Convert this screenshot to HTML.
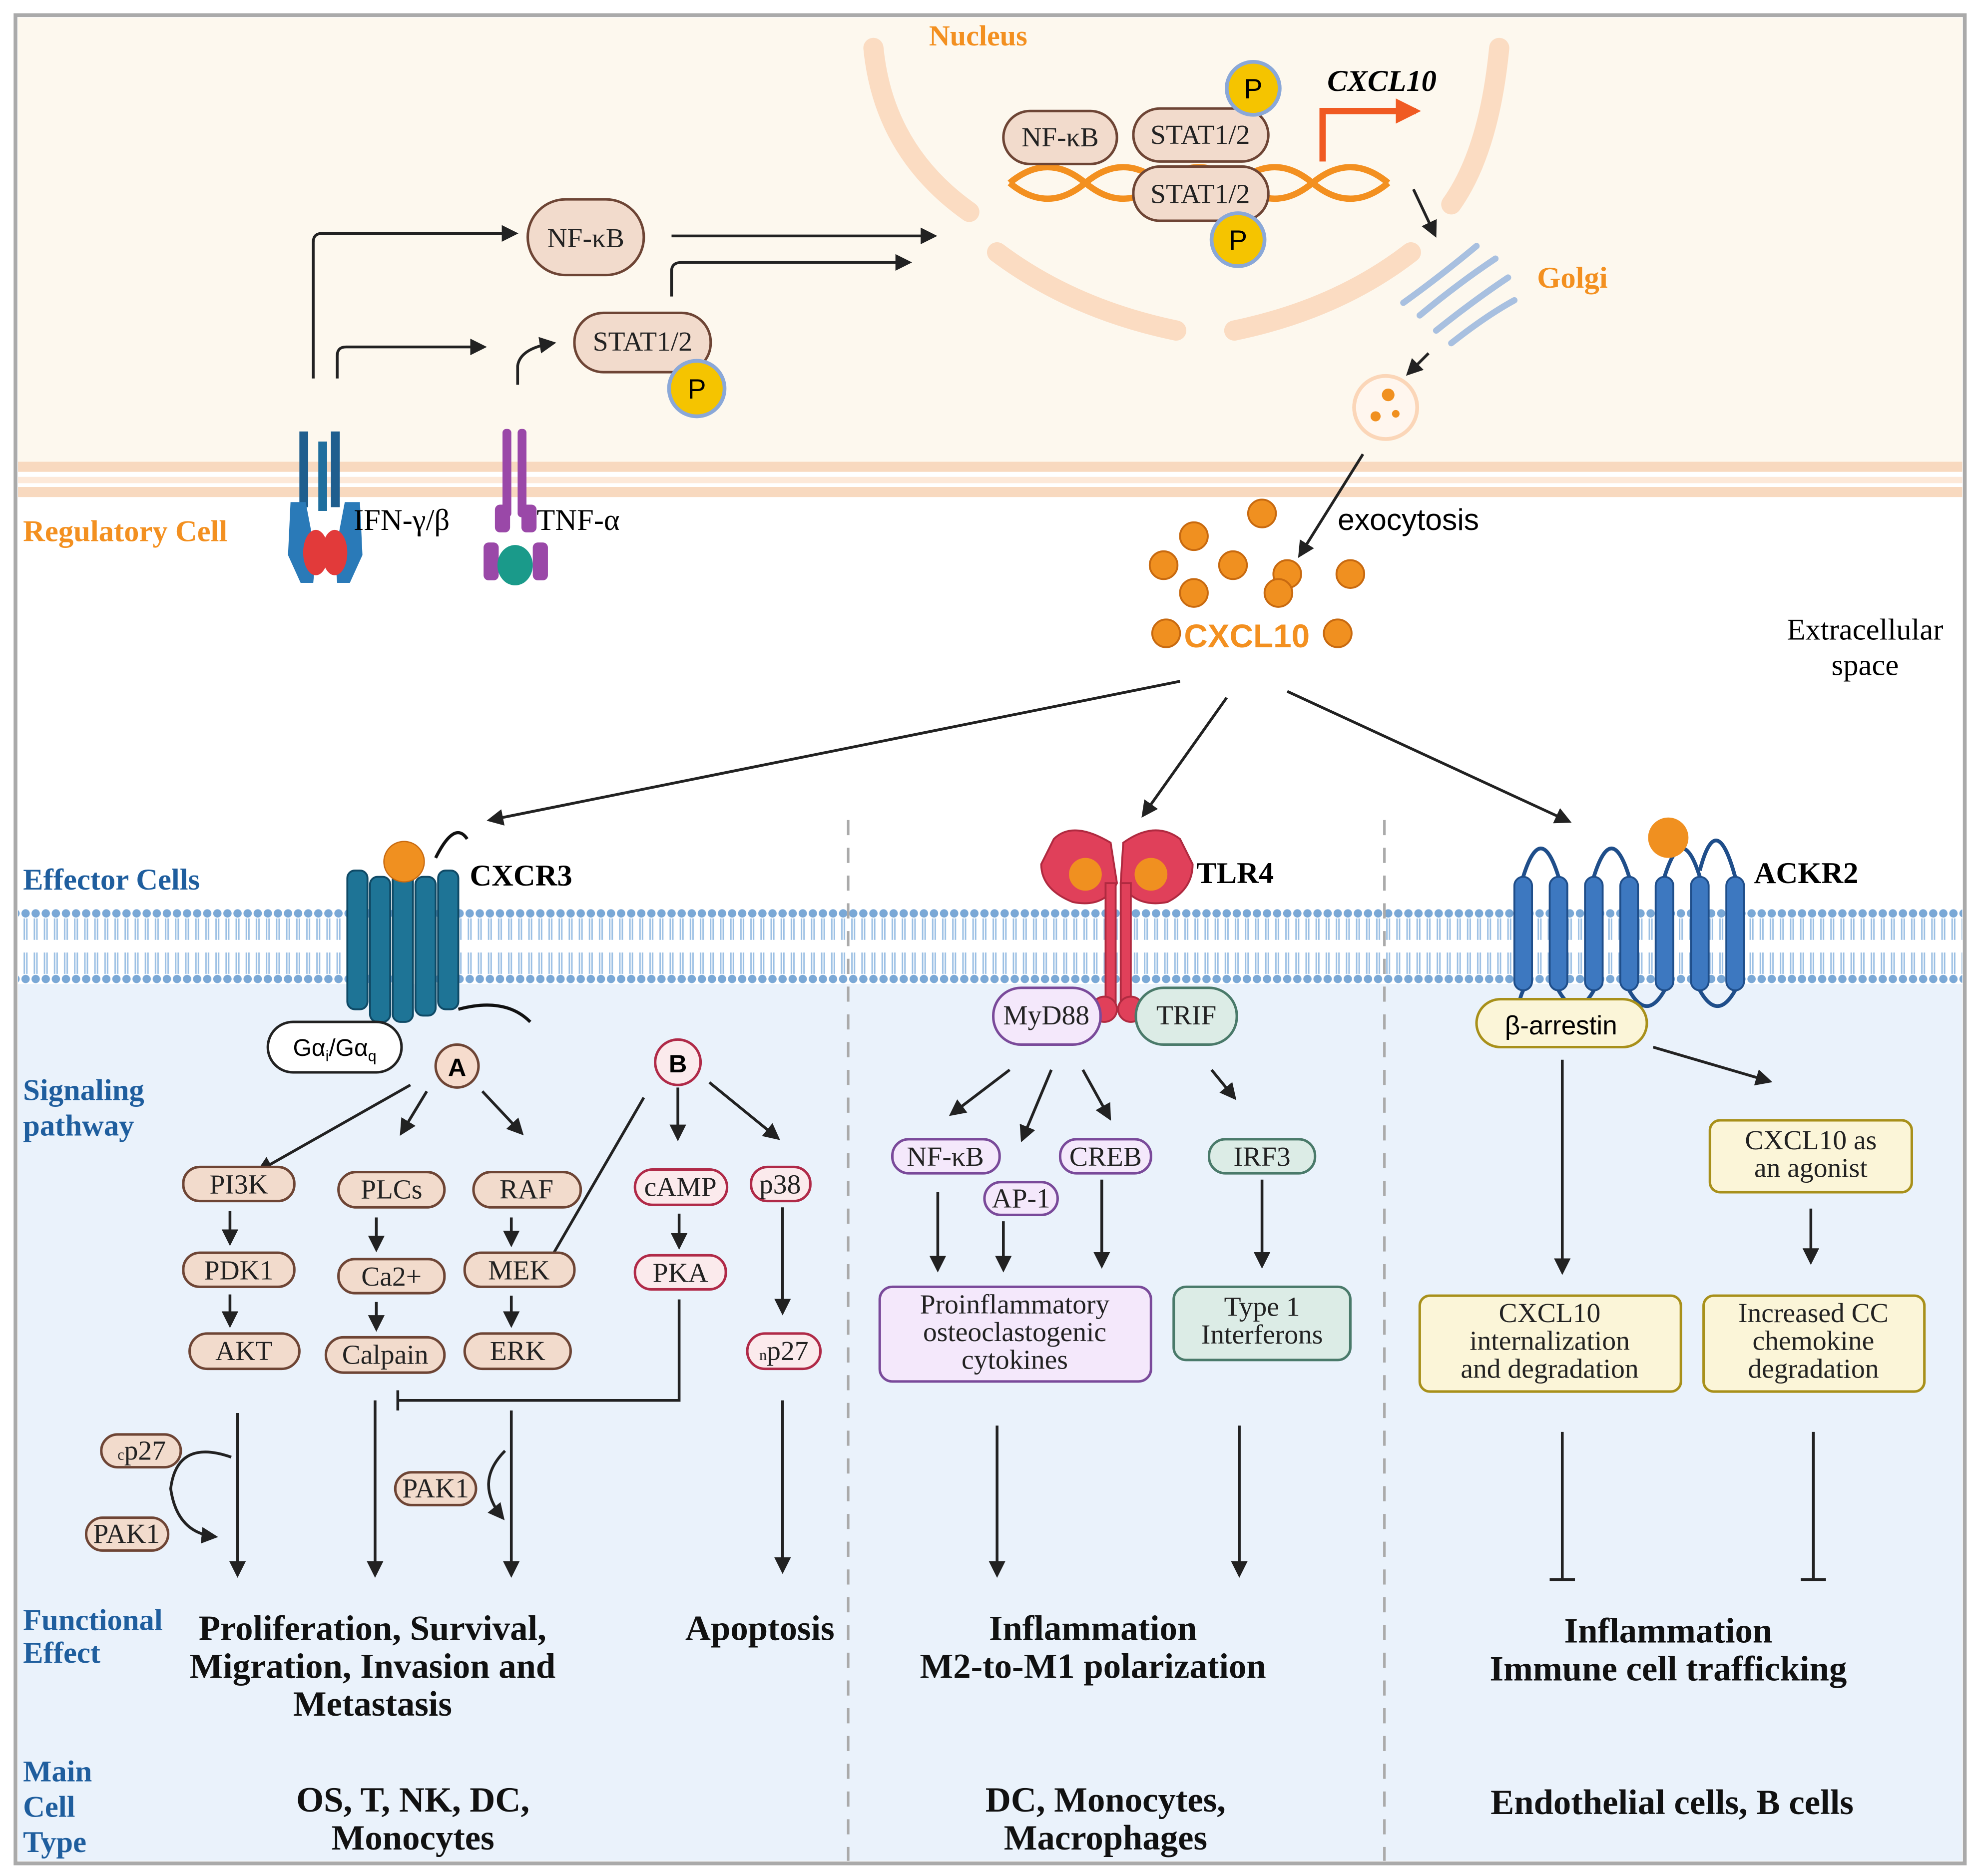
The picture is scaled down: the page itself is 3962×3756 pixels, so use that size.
<!DOCTYPE html>
<html><head><meta charset="utf-8"><style>
html,body{margin:0;padding:0;background:#fff}
svg{display:block}
text{font-family:"Liberation Serif",serif}
.s{font-family:"Liberation Sans",sans-serif}
.bt{font-weight:bold;font-size:28px;text-anchor:middle;fill:#111}
.bl{font-weight:bold;font-size:24px;fill:#1f5e9e}
.pb{fill:#f2dbcc;stroke:#6e4535;stroke-width:2}
.pr{fill:#fbeaec;stroke:#b02a48;stroke-width:2}
.pv{fill:#f4e8fb;stroke:#7a4a9a;stroke-width:2}
.pm{fill:#dcece6;stroke:#4a7a6a;stroke-width:2}
.py{fill:#fbf5d8;stroke:#a8901a;stroke-width:2}
.pt{font-size:22px;text-anchor:middle;fill:#222}
.ar{stroke:#222;stroke-width:2.2;fill:none;marker-end:url(#ah)}
.ln{stroke:#222;stroke-width:2.2;fill:none}
</style></head><body>
<svg width="3962" height="3756" viewBox="0 0 1568 1487" xmlns="http://www.w3.org/2000/svg">
<defs>
<marker id="ah" viewBox="0 0 10 10" refX="8" refY="5" markerWidth="6" markerHeight="6" orient="auto-start-reverse"><path d="M0,0L10,5L0,10z" fill="#222"/></marker>
<marker id="oh" viewBox="0 0 10 10" refX="8" refY="5" markerWidth="4" markerHeight="4" orient="auto"><path d="M0,0L10,5L0,10z" fill="#f05a22"/></marker>
<pattern id="lip" x="0" y="0" width="8" height="60" patternUnits="userSpaceOnUse">
<circle cx="4" cy="4" r="3.3" fill="#7aa8d6"/><line x1="3" y1="8" x2="3" y2="25" stroke="#9cc0e4" stroke-width="1.2"/><line x1="5" y1="8" x2="5" y2="25" stroke="#9cc0e4" stroke-width="1.2"/>
<line x1="3" y1="35" x2="3" y2="52" stroke="#9cc0e4" stroke-width="1.2"/><line x1="5" y1="35" x2="5" y2="52" stroke="#9cc0e4" stroke-width="1.2"/><circle cx="4" cy="56" r="3.3" fill="#7aa8d6"/>
</pattern>
</defs>
<rect x="0" y="0" width="1568" height="1487" fill="#fff"/>
<rect x="12" y="12" width="1545" height="1465" fill="#fff" stroke="#aaa" stroke-width="3"/>
<rect x="14" y="14" width="1541" height="355" fill="#fdf8ee"/>
<rect x="14" y="366" width="1541" height="8" fill="#f8d9bf"/>
<rect x="14" y="378" width="1541" height="5" fill="#fde9d9"/>
<rect x="14" y="386" width="1541" height="8" fill="#f8d9bf"/>
<rect x="14" y="780" width="1541" height="695" fill="#eaf2fb"/>
<rect x="14" y="720" width="1541" height="60" fill="url(#lip)"/>
<line x1="672" y1="650" x2="672" y2="1475" stroke="#aaa" stroke-width="2" stroke-dasharray="12,10"/>
<line x1="1097" y1="650" x2="1097" y2="1475" stroke="#aaa" stroke-width="2" stroke-dasharray="12,10"/>

<text x="775" y="36" font-size="23" font-weight="bold" fill="#f39020" text-anchor="middle">Nucleus</text>
<g stroke="#fbdcc2" stroke-width="16" fill="none" stroke-linecap="round">
<path d="M692,38 Q700,120 768,168"/>
<path d="M1188,38 Q1180,120 1150,162"/>
<path d="M790,200 Q850,245 932,262"/>
<path d="M978,262 Q1060,245 1118,200"/>
</g>
<g stroke="#f39020" stroke-width="5" fill="none">
<path d="M800,145 Q830,120 860,145 T920,145 T980,145 T1040,145 T1100,145"/>
<path d="M800,145 Q830,170 860,145 T920,145 T980,145 T1040,145 T1100,145"/>
</g>
<rect x="795" y="88" width="90" height="42" rx="21" class="pb"/><text x="840" y="116" class="pt" font-size="23">NF-κB</text>
<rect x="898" y="86" width="107" height="42" rx="21" class="pb"/><text x="951" y="114" class="pt" font-size="23">STAT1/2</text>
<rect x="898" y="132" width="107" height="43" rx="21" class="pb"/><text x="951" y="161" class="pt" font-size="23">STAT1/2</text>
<circle cx="993" cy="70" r="21" fill="#f5c400" stroke="#8aa8d8" stroke-width="3"/><text x="993" y="78" class="s" font-size="22" text-anchor="middle">P</text>
<circle cx="981" cy="190" r="21" fill="#f5c400" stroke="#8aa8d8" stroke-width="3"/><text x="981" y="198" class="s" font-size="22" text-anchor="middle">P</text>
<path d="M1048,128 L1048,88 L1122,88" stroke="#f05a22" stroke-width="5" fill="none" marker-end="url(#oh)"/>
<text x="1095" y="72" font-size="24" font-weight="bold" font-style="italic" text-anchor="middle">CXCL10</text>
<line x1="1120" y1="150" x2="1137" y2="186" class="ar"/>
<g stroke="#a8c0e0" stroke-width="5" fill="none" stroke-linecap="round">
<path d="M1112,240 Q1140,220 1170,195"/><path d="M1125,250 Q1155,225 1185,205"/><path d="M1138,262 Q1168,238 1195,220"/><path d="M1150,272 Q1178,250 1200,238"/>
</g>
<text x="1218" y="228" font-size="24" font-weight="bold" fill="#f39020">Golgi</text>
<line x1="1132" y1="280" x2="1116" y2="296" class="ar"/>
<circle cx="1098" cy="323" r="25" fill="#fff6ee" stroke="#fbd6b8" stroke-width="3"/>
<circle cx="1100" cy="313" r="5" fill="#f09020"/><circle cx="1090" cy="330" r="4" fill="#f09020"/><circle cx="1106" cy="328" r="3" fill="#f09020"/>
<line x1="1080" y1="360" x2="1030" y2="440" class="ar"/>
<text x="1060" y="420" class="s" font-size="24">exocytosis</text>
<g fill="#f09020" stroke="#c86a10" stroke-width="1.5">
<circle cx="1000" cy="407" r="11"/><circle cx="946" cy="425" r="11"/><circle cx="977" cy="448" r="11"/><circle cx="1020" cy="455" r="11"/><circle cx="922" cy="448" r="11"/><circle cx="946" cy="470" r="11"/><circle cx="1013" cy="470" r="11"/><circle cx="1070" cy="455" r="11"/><circle cx="924" cy="502" r="11"/><circle cx="1060" cy="502" r="11"/>
</g>
<text x="988" y="513" class="s" font-size="26" font-weight="bold" fill="#f39020" text-anchor="middle">CXCL10</text>
<text x="1478" y="507" font-size="24" text-anchor="middle">Extracellular</text>
<text x="1478" y="535" font-size="24" text-anchor="middle">space</text>

<rect x="418" y="158" width="92" height="60" rx="30" class="pb"/><text x="464" y="196" class="pt" font-size="23">NF-κB</text>
<rect x="455" y="248" width="108" height="47" rx="23" class="pb"/><text x="509" y="278" class="pt" font-size="23">STAT1/2</text>
<circle cx="552" cy="308" r="22" fill="#f5c400" stroke="#8aa8d8" stroke-width="3"/><text x="552" y="316" class="s" font-size="22" text-anchor="middle">P</text>
<path d="M248,300 L248,192 Q248,185 255,185 L408,185" class="ar"/>
<path d="M267,300 L267,282 Q267,275 274,275 L383,275" class="ar"/>
<path d="M410,305 L410,290 Q412,276 438,272" class="ar"/>
<path d="M532,187 L740,187" class="ar"/>
<path d="M532,235 L532,215 Q532,208 540,208 L720,208" class="ar"/>
<g>
<rect x="237" y="342" width="7" height="60" fill="#1f5e8e"/><rect x="252" y="350" width="7" height="55" fill="#1f6f9e"/><rect x="262" y="342" width="7" height="60" fill="#1f5e8e"/>
<path d="M230,398 L242,398 L250,440 L248,462 L238,462 L228,440 Z" fill="#2a7ab8"/><path d="M285,398 L273,398 L265,440 L267,462 L277,462 L287,440 Z" fill="#2a7ab8"/>
<ellipse cx="250" cy="438" rx="10" ry="18" fill="#e23a3a"/><ellipse cx="265" cy="438" rx="10" ry="18" fill="#e23a3a"/>
</g>
<g fill="#9a48a8">
<rect x="398" y="340" width="7" height="70" rx="3"/><rect x="410" y="340" width="7" height="70" rx="3"/>
<rect x="392" y="400" width="12" height="22" rx="4"/><rect x="413" y="400" width="12" height="22" rx="4"/>
<rect x="383" y="430" width="12" height="30" rx="4"/><rect x="422" y="430" width="12" height="30" rx="4"/>
<ellipse cx="408" cy="448" rx="14" ry="16" fill="#1a9a8a"/>
</g>
<text x="280" y="420" font-size="24">IFN-γ/β</text>
<text x="425" y="420" font-size="24">TNF-α</text>
<text x="18" y="429" font-size="24" font-weight="bold" fill="#f39020">Regulatory Cell</text>

<line x1="935" y1="540" x2="388" y2="650" class="ar"/>
<line x1="972" y1="553" x2="906" y2="646" class="ar"/>
<line x1="1020" y1="548" x2="1243" y2="651" class="ar"/>

<text x="18" y="705" class="bl">Effector Cells</text>
<text x="18" y="872" class="bl">Signaling</text><text x="18" y="900" class="bl">pathway</text>
<text x="18" y="1292" class="bl">Functional</text><text x="18" y="1318" class="bl">Effect</text>
<text x="18" y="1412" class="bl">Main</text><text x="18" y="1440" class="bl">Cell</text><text x="18" y="1468" class="bl">Type</text>

<g fill="#1e7496" stroke="#0f4a66" stroke-width="1.5">
<rect x="275" y="690" width="16" height="110" rx="6"/><rect x="293" y="695" width="16" height="115" rx="6"/><rect x="311" y="690" width="16" height="120" rx="6"/><rect x="329" y="695" width="16" height="110" rx="6"/><rect x="347" y="690" width="16" height="110" rx="6"/>
</g>
<path d="M345,680 Q360,650 370,665 M363,800 Q400,790 420,810" stroke="#111" stroke-width="2.5" fill="none"/>
<circle cx="320" cy="683" r="16" fill="#f09020" stroke="#c86a10"/>
<text x="372" y="702" font-size="24" font-weight="bold">CXCR3</text>
<rect x="212" y="810" width="106" height="40" rx="20" fill="#fff" stroke="#222" stroke-width="2"/>
<text x="265" y="837" class="s" font-size="19" text-anchor="middle">Gα<tspan font-size="12" dy="4">i</tspan><tspan dy="-4">/Gα</tspan><tspan font-size="12" dy="4">q</tspan></text>
<circle cx="362" cy="845" r="17" fill="#f6dccd" stroke="#6e4535" stroke-width="2"/><text x="362" y="853" class="s" font-size="20" font-weight="bold" text-anchor="middle">A</text>
<circle cx="537" cy="842" r="18" fill="#fbeaec" stroke="#b02a48" stroke-width="2"/><text x="537" y="850" class="s" font-size="20" font-weight="bold" text-anchor="middle">B</text>
<line x1="325" y1="860" x2="205" y2="928" class="ar"/>
<line x1="338" y1="865" x2="318" y2="898" class="ar"/>
<line x1="382" y1="865" x2="413" y2="898" class="ar"/>
<line x1="537" y1="862" x2="537" y2="902" class="ar"/>
<line x1="562" y1="858" x2="616" y2="902" class="ar"/>
<line x1="510" y1="870" x2="430" y2="1008" class="ln"/><line x1="422" y1="1003" x2="438" y2="1013" class="ln"/>
<rect x="145" y="925" width="88" height="27" rx="13" class="pb"/><text x="189" y="946" class="pt">PI3K</text>
<rect x="268" y="929" width="84" height="28" rx="14" class="pb"/><text x="310" y="950" class="pt">PLCs</text>
<rect x="375" y="929" width="85" height="28" rx="14" class="pb"/><text x="417" y="950" class="pt">RAF</text>
<rect x="503" y="927" width="73" height="28" rx="14" class="pr"/><text x="539" y="948" class="pt">cAMP</text>
<rect x="595" y="925" width="47" height="27" rx="13" class="pr"/><text x="618" y="946" class="pt">p38</text>
<rect x="145" y="993" width="88" height="27" rx="13" class="pb"/><text x="189" y="1014" class="pt">PDK1</text>
<rect x="268" y="998" width="84" height="27" rx="13" class="pb"/><text x="310" y="1019" class="pt">Ca2+</text>
<rect x="368" y="993" width="87" height="27" rx="13" class="pb"/><text x="411" y="1014" class="pt">MEK</text>
<rect x="503" y="995" width="72" height="27" rx="13" class="pr"/><text x="539" y="1016" class="pt">PKA</text>
<rect x="150" y="1057" width="87" height="28" rx="14" class="pb"/><text x="193" y="1078" class="pt">AKT</text>
<rect x="258" y="1060" width="94" height="28" rx="14" class="pb"/><text x="305" y="1081" class="pt">Calpain</text>
<rect x="368" y="1057" width="84" height="28" rx="14" class="pb"/><text x="410" y="1078" class="pt">ERK</text>
<rect x="592" y="1057" width="58" height="28" rx="14" class="pr"/><text x="621" y="1078" class="pt"><tspan font-size="12">n</tspan>p27</text>
<line x1="182" y1="960" x2="182" y2="985" class="ar"/><line x1="182" y1="1026" x2="182" y2="1050" class="ar"/>
<line x1="298" y1="965" x2="298" y2="990" class="ar"/><line x1="298" y1="1032" x2="298" y2="1053" class="ar"/>
<line x1="405" y1="965" x2="405" y2="986" class="ar"/><line x1="405" y1="1027" x2="405" y2="1050" class="ar"/>
<line x1="538" y1="962" x2="538" y2="988" class="ar"/>
<line x1="620" y1="957" x2="620" y2="1040" class="ar"/>
<path d="M538,1030 L538,1110 L315,1110" class="ln"/><line x1="315" y1="1102" x2="315" y2="1118" class="ln"/>
<line x1="188" y1="1120" x2="188" y2="1248" class="ar"/>
<line x1="297" y1="1110" x2="297" y2="1248" class="ar"/>
<line x1="405" y1="1118" x2="405" y2="1248" class="ar"/>
<line x1="620" y1="1110" x2="620" y2="1245" class="ar"/>
<rect x="80" y="1137" width="63" height="26" rx="13" class="pb"/><text x="112" y="1157" class="pt"><tspan font-size="12">c</tspan>p27</text>
<rect x="68" y="1203" width="65" height="26" rx="13" class="pb"/><text x="100" y="1223" class="pt">PAK1</text>
<path d="M183,1155 Q140,1140 135,1180 Q140,1215 170,1218" class="ar"/>
<rect x="313" y="1167" width="64" height="26" rx="13" class="pb"/><text x="345" y="1187" class="pt">PAK1</text>
<path d="M400,1150 Q375,1175 398,1203" class="ar"/>
<text x="295" y="1300" class="bt">Proliferation, Survival,</text>
<text x="295" y="1330" class="bt">Migration, Invasion and</text>
<text x="295" y="1360" class="bt">Metastasis</text>
<text x="602" y="1300" class="bt">Apoptosis</text>
<text x="327" y="1436" class="bt">OS, T, NK, DC,</text>
<text x="327" y="1466" class="bt">Monocytes</text>

<g fill="#e0405a" stroke="#b02a40" stroke-width="1.5">
<path d="M835,665 Q850,650 880,668 L885,700 Q875,720 850,715 Q825,705 825,685 Z"/>
<path d="M935,665 Q915,650 890,668 L888,700 Q900,720 925,715 Q945,705 945,685 Z"/>
<rect x="876" y="700" width="8" height="95"/><rect x="888" y="700" width="8" height="95"/>
<circle cx="875" cy="800" r="10"/><circle cx="896" cy="800" r="10"/>
</g>
<circle cx="860" cy="693" r="13" fill="#f09020"/><circle cx="912" cy="693" r="13" fill="#f09020"/>
<text x="948" y="700" font-size="24" font-weight="bold">TLR4</text>
<rect x="787" y="783" width="85" height="45" rx="22" class="pv"/><text x="829" y="812" class="pt">MyD88</text>
<rect x="900" y="783" width="80" height="45" rx="22" class="pm"/><text x="940" y="812" class="pt">TRIF</text>
<line x1="800" y1="848" x2="754" y2="883" class="ar"/>
<line x1="833" y1="848" x2="810" y2="903" class="ar"/>
<line x1="858" y1="848" x2="879" y2="886" class="ar"/>
<line x1="960" y1="848" x2="978" y2="870" class="ar"/>
<rect x="707" y="903" width="85" height="27" rx="13" class="pv"/><text x="749" y="924" class="pt">NF-κB</text>
<rect x="780" y="937" width="58" height="26" rx="13" class="pv"/><text x="809" y="957" class="pt">AP-1</text>
<rect x="840" y="903" width="72" height="27" rx="13" class="pv"/><text x="876" y="924" class="pt">CREB</text>
<rect x="958" y="903" width="84" height="27" rx="13" class="pm"/><text x="1000" y="924" class="pt">IRF3</text>
<line x1="743" y1="945" x2="743" y2="1006" class="ar"/>
<line x1="795" y1="968" x2="795" y2="1006" class="ar"/>
<line x1="873" y1="935" x2="873" y2="1003" class="ar"/>
<line x1="1000" y1="935" x2="1000" y2="1003" class="ar"/>
<rect x="697" y="1020" width="215" height="75" rx="10" class="pv"/>
<text x="804" y="1041" class="pt">Proinflammatory</text><text x="804" y="1063" class="pt">osteoclastogenic</text><text x="804" y="1085" class="pt">cytokines</text>
<rect x="930" y="1020" width="140" height="58" rx="10" class="pm"/>
<text x="1000" y="1043" class="pt">Type 1</text><text x="1000" y="1065" class="pt">Interferons</text>
<line x1="790" y1="1130" x2="790" y2="1248" class="ar"/>
<line x1="982" y1="1130" x2="982" y2="1248" class="ar"/>
<text x="866" y="1300" class="bt">Inflammation</text>
<text x="866" y="1330" class="bt">M2-to-M1 polarization</text>
<text x="876" y="1436" class="bt">DC, Monocytes,</text>
<text x="876" y="1466" class="bt">Macrophages</text>

<g fill="#3d78c0" stroke="#1f4e8a" stroke-width="1.5">
<rect x="1200" y="695" width="14" height="90" rx="7"/><rect x="1228" y="695" width="14" height="90" rx="7"/><rect x="1256" y="695" width="14" height="90" rx="7"/><rect x="1284" y="695" width="14" height="90" rx="7"/><rect x="1312" y="695" width="14" height="90" rx="7"/><rect x="1340" y="695" width="14" height="90" rx="7"/><rect x="1368" y="695" width="14" height="90" rx="7"/>
</g>
<path d="M1207,695 Q1221,650 1235,695 M1263,695 Q1277,650 1291,695 M1319,695 Q1333,650 1347,695 M1347,690 Q1360,640 1375,695 M1235,785 Q1249,810 1263,785 M1291,785 Q1305,810 1319,785 M1347,785 Q1361,810 1375,785 M1207,785 Q1200,800 1210,805" stroke="#1f4e8a" stroke-width="3" fill="none"/>
<circle cx="1322" cy="664" r="16" fill="#f09020"/>
<text x="1390" y="700" font-size="24" font-weight="bold">ACKR2</text>
<rect x="1170" y="792" width="135" height="38" rx="19" class="py"/><text x="1237" y="820" class="s" font-size="21" text-anchor="middle">β-arrestin</text>
<line x1="1238" y1="840" x2="1238" y2="1008" class="ar"/>
<line x1="1310" y1="830" x2="1402" y2="857" class="ar"/>
<rect x="1355" y="888" width="160" height="57" rx="8" class="py"/>
<text x="1435" y="911" class="pt">CXCL10 as</text><text x="1435" y="933" class="pt">an agonist</text>
<line x1="1435" y1="958" x2="1435" y2="1000" class="ar"/>
<rect x="1125" y="1027" width="207" height="76" rx="8" class="py"/>
<text x="1228" y="1048" class="pt">CXCL10</text><text x="1228" y="1070" class="pt">internalization</text><text x="1228" y="1092" class="pt">and degradation</text>
<rect x="1350" y="1027" width="175" height="76" rx="8" class="py"/>
<text x="1437" y="1048" class="pt">Increased CC</text><text x="1437" y="1070" class="pt">chemokine</text><text x="1437" y="1092" class="pt">degradation</text>
<line x1="1238" y1="1135" x2="1238" y2="1252" class="ln"/><line x1="1228" y1="1252" x2="1248" y2="1252" class="ln"/>
<line x1="1437" y1="1135" x2="1437" y2="1252" class="ln"/><line x1="1427" y1="1252" x2="1447" y2="1252" class="ln"/>
<text x="1322" y="1302" class="bt">Inflammation</text>
<text x="1322" y="1332" class="bt">Immune cell trafficking</text>
<text x="1325" y="1438" class="bt">Endothelial cells, B cells</text>
</svg>
</body></html>
